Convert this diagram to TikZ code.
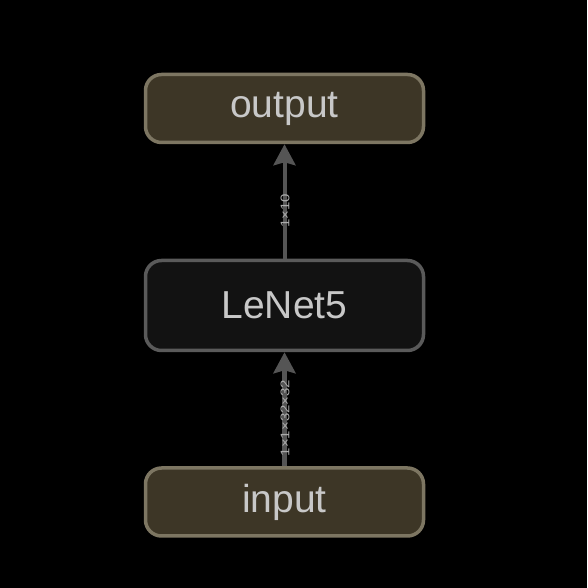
\documentclass[tikz,border=0pt]{standalone}
\usepackage{fontspec}
\setmainfont{Liberation Sans}
\usetikzlibrary{arrows.meta}
\definecolor{iofill}{HTML}{3D3626}
\definecolor{iodraw}{HTML}{7D7662}
\definecolor{opfill}{HTML}{121212}
\definecolor{opdraw}{HTML}{5A5A5A}
\definecolor{txt}{HTML}{C8C8C8}
\definecolor{edge}{HTML}{555555}
\definecolor{elab}{HTML}{ABABAB}
\begin{document}
\begin{tikzpicture}[x=1pt,y=1pt,
  iobox/.style={draw=iodraw,fill=iofill,line width=3.5pt,rounded corners=16pt,
    minimum width=278pt,minimum height=68pt,inner sep=0pt,text=txt,
    font=\fontsize{39}{44}\selectfont},
  opbox/.style={draw=opdraw,fill=opfill,line width=3.5pt,rounded corners=16pt,
    minimum width=278pt,minimum height=90pt,inner sep=0pt,text=txt,
    font=\fontsize{39}{44}\selectfont},
  conn/.style={draw=edge,-{Stealth[length=21pt,width=22pt,inset=3pt]}},
  elabel/.style={text=elab,rotate=90,inner sep=0pt,font=\fontsize{12.5}{14}\selectfont}]
\fill[black] (0,0) rectangle (587,588);
\useasboundingbox (0,0) rectangle (587,588);
\node[iobox] (out) at (284.5,479.5) {\raisebox{-2pt}{output}};
\node[opbox] (net) at (284.5,282.5) {LeNet5};
\node[iobox] (in) at (284.5,86) {\raisebox{-2pt}{input}};
\draw[conn,line width=4pt] (net.north) -- (out.south);
\draw[conn,line width=5pt] (in.north) -- (net.south);
\node[elabel] (l1) at (285,377) {\scalebox{1.2}[1]{1×10}};
\node[elabel] (l2) at (285,170) {\scalebox{1.2}[1]{1×1×32×32}};
\end{tikzpicture}
\end{document}
